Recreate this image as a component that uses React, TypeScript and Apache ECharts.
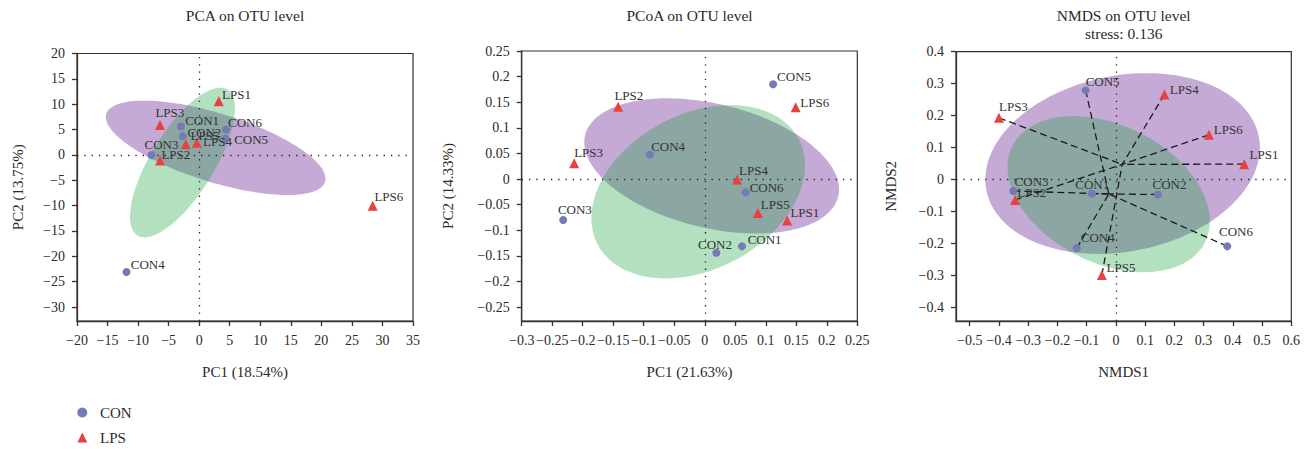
import React, { useEffect, useRef } from "react";
import * as echarts from "echarts";

// ---------- data ----------
const conNames = ["CON1", "CON2", "CON3", "CON4", "CON5", "CON6"];
const lpsNames = ["LPS1", "LPS2", "LPS3", "LPS4", "LPS5", "LPS6"];

// PCA on OTU level
const pcaConX = [-3.0, -2.7, -7.8, -11.9, 4.3, 4.4];
const pcaConY = [5.6, 3.7, 0.0, -23.1, 3.2, 5.0];
const pcaLpsX = [3.2, -6.4, -6.4, -0.4, -2.2, 28.4];
const pcaLpsY = [10.6, -1.1, 5.9, 2.4, 2.1, -10.0];
// ellipse: centre x, centre y, axis-1 vector (x, y), axis-2 vector (x, y)
const pcaEllipseLps = [2.7, 1.4, 17.9, -6.7, 1.67, 6.46];
const pcaEllipseCon = [-2.73, -1.5, 7.36, 14.4, 4.42, -3.26];
const pcaTicksX = [-20, -15, -10, -5, 0, 5, 10, 15, 20, 25, 30, 35];
const pcaTicksY = [-30, -25, -20, -15, -10, -5, 0, 5, 10, 15, 20];

// PCoA on OTU level
const pcoaConX = [0.061, 0.019, -0.232, -0.09, 0.112, 0.067];
const pcoaConY = [-0.131, -0.144, -0.08, 0.048, 0.185, -0.026];
const pcoaLpsX = [0.135, -0.142, -0.214, 0.053, 0.087, 0.149];
const pcoaLpsY = [-0.081, 0.141, 0.031, -0.001, -0.066, 0.14];
const pcoaEllipseLps = [0.0113, 0.0257, 0.2074, -0.06, 0.0242, 0.1175];
const pcoaEllipseCon = [-0.0108, -0.0248, 0.1647, 0.1028, 0.0592, -0.1342];
const pcoaTicksX = [-0.3, -0.25, -0.2, -0.15, -0.1, -0.05, 0, 0.05, 0.1, 0.15, 0.2, 0.25];
const pcoaTicksY = [-0.25, -0.2, -0.15, -0.1, -0.05, 0, 0.05, 0.1, 0.15, 0.2, 0.25];

// NMDS on OTU level
const nmdsConX = [-0.082, 0.1435, -0.351, -0.134, -0.1035, 0.381];
const nmdsConY = [-0.044, -0.047, -0.036, -0.215, 0.279, -0.209];
const nmdsLpsX = [0.439, -0.345, -0.4, 0.166, -0.048, 0.318];
const nmdsLpsY = [0.048, -0.064, 0.193, 0.266, -0.299, 0.14];
const nmdsEllipseLps = [0.0229, 0.05, 0.466, 0.0836, 0.0574, -0.2703];
const nmdsEllipseCon = [-0.0249, -0.046, 0.33, -0.1496, 0.1042, 0.193];
const nmdsTicksX = [-0.5, -0.4, -0.3, -0.2, -0.1, 0, 0.1, 0.2, 0.3, 0.4, 0.5, 0.6];
const nmdsTicksY = [-0.4, -0.3, -0.2, -0.1, 0, 0.1, 0.2, 0.3, 0.4];

// ---------- layout / style ----------
const SERIF = "'Liberation Serif', 'Times New Roman', serif";
const TEXT = "#2b2b2b";
const AXIS = "#333";
const CON_COLOR = "#7579b6";
const LPS_COLOR = "#e8423f";
const LPS_FILL = "#c5aad5";
const CON_FILL = "rgba(24,160,60,0.33)";

// label offsets [dx to text left, dy to text middle] from marker centre, px
const labelOffsets: Record<string, Record<string, number[]>> = {
  pca: {
    LPS1: [3.3, -6.7], LPS3: [-4.7, -13], CON1: [4.3, -6.3], CON6: [2, -7.3],
    CON2: [4.7, -3.3], CON5: [8.7, 1.3], LPS5: [4.7, -8.3], LPS4: [6.3, -1],
    CON3: [-7, -10.3], LPS2: [1.3, -5.7], LPS6: [1.7, -8.7], CON4: [4.3, -7.7],
  },
  pcoa: {
    CON5: [4, -8.3], LPS6: [4.7, -4.7], LPS2: [-3.7, -11.7], CON4: [1.3, -8.3],
    LPS3: [0, -10.7], LPS4: [2, -8.7], CON6: [4, -4.7], LPS5: [3, -8.3],
    LPS1: [3.3, -8.3], CON3: [-5.3, -11], CON1: [5.7, -6.7], CON2: [-18.3, -8.7],
  },
  nmds: {
    CON5: [0, -8.7], LPS4: [5.3, -5], LPS3: [0, -11], LPS6: [5, -5],
    LPS1: [5.3, -9.7], CON3: [1.3, -9], LPS2: [2.3, -7], CON1: [-16.7, -9.3],
    CON2: [-5.3, -10], CON6: [-8.3, -14.3], CON4: [4, -10.3], LPS5: [4.7, -7.3],
  },
};

const panels = [
  {
    key: "pca", title: "PCA on OTU level", sub: "",
    xName: "PC1 (18.54%)", yName: "PC2 (13.75%)",
    grid: { left: 77, top: 53.5, width: 336, height: 267.5 },
    xRange: [-20, 35], yRange: [-32.75, 20], yNameGap: 52,
    xTicks: pcaTicksX, yTicks: pcaTicksY,
    conX: pcaConX, conY: pcaConY, lpsX: pcaLpsX, lpsY: pcaLpsY,
    ellLps: pcaEllipseLps, ellCon: pcaEllipseCon, spider: false,
  },
  {
    key: "pcoa", title: "PCoA on OTU level", sub: "",
    xName: "PC1 (21.63%)", yName: "PC2 (14.33%)",
    grid: { left: 521.7, top: 51, width: 335.6, height: 270 },
    xRange: [-0.3, 0.25], yRange: [-0.277, 0.25], yNameGap: 66,
    xTicks: pcoaTicksX, yTicks: pcoaTicksY,
    conX: pcoaConX, conY: pcoaConY, lpsX: pcoaLpsX, lpsY: pcoaLpsY,
    ellLps: pcoaEllipseLps, ellCon: pcoaEllipseCon, spider: false,
  },
  {
    key: "nmds", title: "NMDS on OTU level", sub: "stress: 0.136",
    xName: "NMDS1", yName: "NMDS2",
    grid: { left: 956, top: 51.7, width: 335.3, height: 269.3 },
    xRange: [-0.547, 0.6], yRange: [-0.443, 0.4], yNameGap: 58,
    xTicks: nmdsTicksX, yTicks: nmdsTicksY,
    conX: nmdsConX, conY: nmdsConY, lpsX: nmdsLpsX, lpsY: nmdsLpsY,
    ellLps: nmdsEllipseLps, ellCon: nmdsEllipseCon, spider: true,
  },
];

const fmt = (v: number) => String(+Number(v).toFixed(4)).replace("-", "\u2212");
const mean = (a: number[]) => a.reduce((s, v) => s + v, 0) / a.length;

function ellipseSeries(i: number, params: number[], fill: string, withZero: boolean) {
  const s: any = {
    type: "custom",
    xAxisIndex: i,
    yAxisIndex: i,
    silent: true,
    z: 1,
    data: [params],
    encode: { x: 0, y: 1 },
    renderItem: (_p: any, api: any) => {
      const cx = api.value(0), cy = api.value(1);
      const ux = api.value(2), uy = api.value(3);
      const vx = api.value(4), vy = api.value(5);
      const pts: number[][] = [];
      const n = 160;
      for (let k = 0; k < n; k++) {
        const t = (k / n) * Math.PI * 2;
        pts.push(api.coord([cx + ux * Math.cos(t) + vx * Math.sin(t), cy + uy * Math.cos(t) + vy * Math.sin(t)]));
      }
      return { type: "polygon", shape: { points: pts }, style: { fill } };
    },
  };
  if (withZero) {
    s.markLine = {
      silent: true,
      z: 2,
      symbol: "none",
      label: { show: false },
      lineStyle: { color: "#222", width: 1.3, type: [1.3, 6] },
      data: [{ xAxis: 0 }, { yAxis: 0 }],
    };
  }
  return s;
}

function scatterSeries(i: number, key: string, name: string, names: string[], xs: number[], ys: number[]) {
  const isCon = name === "CON";
  return {
    type: "scatter",
    name,
    xAxisIndex: i,
    yAxisIndex: i,
    silent: true,
    z: 3,
    symbol: isCon ? "circle" : "triangle",
    symbolSize: isCon ? 8 : 10,
    itemStyle: { color: isCon ? CON_COLOR : LPS_COLOR, opacity: 1 },
    label: {
      show: true,
      position: "inside",
      align: "left",
      verticalAlign: "middle",
      formatter: "{b}",
      fontFamily: SERIF,
      fontSize: 13,
      color: "#333",
    },
    data: names.map((nm, k) => ({
      name: nm,
      value: [xs[k], ys[k]],
      label: { offset: labelOffsets[key][nm] },
    })),
  };
}

function legendBox(name: string, icon: string, top: number) {
  return {
    data: [{ name, icon }],
    orient: "vertical",
    left: 77.3,
    top,
    padding: 0,
    itemWidth: 10,
    itemHeight: 10,
    selectedMode: false,
    textStyle: { fontFamily: SERIF, fontSize: 15, color: TEXT, lineHeight: 10, padding: [0, 0, 0, 7.7] },
  };
}

function buildOption() {
  const grid: any[] = [];
  const xAxis: any[] = [];
  const yAxis: any[] = [];
  const series: any[] = [];
  const graphic: any[] = [];

  panels.forEach((p, i) => {
    grid.push({ ...p.grid, show: true, borderColor: AXIS, borderWidth: 1.2, backgroundColor: "transparent" });
    const common = (ticks: number[]) => ({
      type: "value",
      gridIndex: i,
      nameLocation: "middle",
      nameTextStyle: { fontFamily: SERIF, fontSize: 15, color: TEXT },
      axisLine: { show: true, onZero: false, lineStyle: { color: AXIS, width: 1.3 } },
      axisTick: { show: true, inside: false, length: 5, customValues: ticks, lineStyle: { color: AXIS, width: 1.3 } },
      axisLabel: {
        customValues: ticks,
        formatter: fmt,
        margin: 12,
        fontFamily: SERIF,
        fontSize: 14,
        color: TEXT,
        showMinLabel: true,
        showMaxLabel: true,
      },
      splitLine: { show: false },
    });
    xAxis.push({ ...common(p.xTicks), min: p.xRange[0], max: p.xRange[1], name: p.xName, nameGap: 43 });
    yAxis.push({ ...common(p.yTicks), min: p.yRange[0], max: p.yRange[1], name: p.yName, nameGap: p.yNameGap });

    series.push(ellipseSeries(i, p.ellLps, LPS_FILL, true));
    series.push(ellipseSeries(i, p.ellCon, CON_FILL, false));

    if (p.spider) {
      const lc = [mean(p.lpsX), mean(p.lpsY)];
      const cc = [mean(p.conX), mean(p.conY)];
      const data: any[] = [];
      p.lpsX.forEach((x, k) => data.push({ coords: [[x, p.lpsY[k]], lc] }));
      p.conX.forEach((x, k) => data.push({ coords: [[x, p.conY[k]], cc] }));
      series.push({
        type: "lines",
        coordinateSystem: "cartesian2d",
        xAxisIndex: i,
        yAxisIndex: i,
        silent: true,
        z: 2,
        lineStyle: { color: "#1a1a1a", width: 1.3, type: [7, 4], opacity: 1 },
        data,
      });
    }

    series.push(scatterSeries(i, p.key, "CON", conNames, p.conX, p.conY));
    series.push(scatterSeries(i, p.key, "LPS", lpsNames, p.lpsX, p.lpsY));

    const cx = p.grid.left + p.grid.width / 2;
    graphic.push({
      type: "text",
      x: cx,
      y: 15,
      silent: true,
      style: { text: p.title, align: "center", verticalAlign: "middle", fontFamily: SERIF, fontSize: 15.5, fill: TEXT },
    });
    if (p.sub) {
      graphic.push({
        type: "text",
        x: cx,
        y: 33,
        silent: true,
        style: { text: p.sub, align: "center", verticalAlign: "middle", fontFamily: SERIF, fontSize: 15.5, fill: TEXT },
      });
    }
  });

  return {
    animation: false,
    backgroundColor: "#fff",
    grid,
    xAxis,
    yAxis,
    series,
    graphic,
    legend: [legendBox("CON", "circle", 405), legendBox("LPS", "triangle", 430)],
  };
}

export default function App() {
  const ref = useRef<HTMLDivElement>(null);
  useEffect(() => {
    document.body.style.margin = "0";
    if (!ref.current) return;
    const chart = echarts.init(ref.current, null, { renderer: "svg" });
    chart.setOption(buildOption() as any);
    return () => chart.dispose();
  }, []);
  return <div ref={ref} style={{ width: 1315, height: 449 }} />;
}
